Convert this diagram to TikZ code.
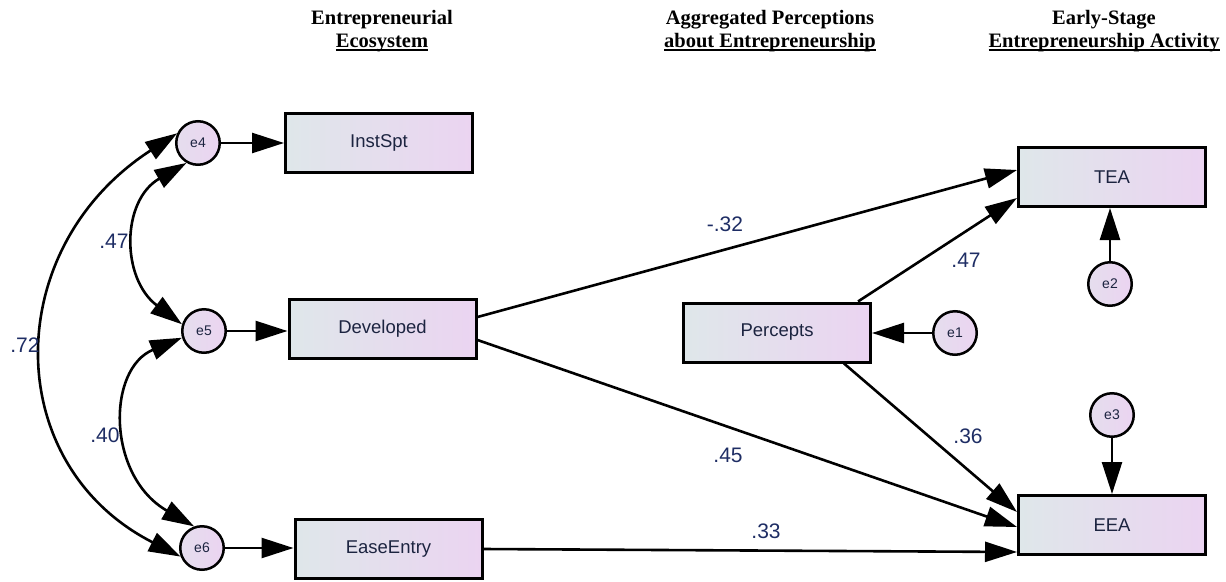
\documentclass[tikz,border=0pt]{standalone}
\usepackage{fontspec}
\setmainfont{Liberation Serif}
\newfontfamily\lsans{Liberation Sans}
\usetikzlibrary{arrows.meta}
\definecolor{boxL}{RGB}{223,231,234}
\definecolor{boxR}{RGB}{235,212,241}
\definecolor{txt}{RGB}{28,36,64}
\definecolor{num}{RGB}{30,45,100}
\newcommand\myul[1]{\setbox0\hbox{#1}\rlap{\rule[-3.5pt]{\wd0}{1.8pt}}\box0}
\begin{document}
\begin{tikzpicture}[x=1pt,y=1pt,
 var/.style={draw=black, line width=3pt, left color=boxL, right color=boxR, minimum width=187pt, minimum height=59pt, inner sep=0pt, font=\lsans\fontsize{18.5}{20}\selectfont, text=txt},
 err/.style={circle, draw=black, line width=2.5pt, left color=boxL!50!boxR, right color=boxR, minimum size=43.5pt, inner sep=0pt, font=\lsans\fontsize{14}{16}\selectfont, text=txt},
 reg/.style={line width=2.6pt, -{Triangle[length=32pt,width=20pt]}},
 cov/.style={line width=2.6pt, {Triangle[length=32pt,width=20pt]}-{Triangle[length=32pt,width=20pt]}},
 coef/.style={font=\lsans\fontsize{21}{24}\selectfont, text=num, inner sep=0pt},
 head/.style={font=\bfseries\fontsize{20.5}{23}\selectfont, align=center, anchor=base, inner sep=0pt}
]
\useasboundingbox (0,0) rectangle (1226,-581);

% headers
\node[head] (h1) at (382,-47) {Entrepreneurial\\\myul{Ecosystem}};
\node[head] (h2) at (770,-47) {Aggregated Perceptions\\\myul{about Entrepreneurship}};
\node[head] (h3) at (1104,-47) {Early-Stage\\\myul{Entrepreneurship Activity}};

% observed variables
\node[var] (InstSpt) at (379,-142.5) {InstSpt};
\node[var] (Developed) at (382.5,-328.5) {Developed};
\node[var] (EaseEntry) at (388.5,-549) {EaseEntry};
\node[var] (Percepts) at (777,-332.5) {Percepts};
\node[var] (TEA) at (1112,-177) {TEA};
\node[var] (EEA) at (1112,-525) {EEA};

% error terms
\node[err] (e4) at (198,-143) {e4};
\node[err] (e5) at (204,-331) {e5};
\node[err] (e6) at (202,-548) {e6};
\node[err] (e1) at (955,-333) {e1};
\node[err] (e2) at (1110,-284) {e2};
\node[err] (e3) at (1112,-415) {e3};

% error paths
\draw[reg] (e4) -- (e4 -| InstSpt.west);
\draw[reg] (e5) -- (e5 -| Developed.west);
\draw[reg] (e6) -- (e6 -| EaseEntry.west);
\draw[reg] (e1) -- (e1 -| Percepts.east);
\draw[reg] (e2) -- (e2 |- TEA.south);
\draw[reg] (e3) -- (e3 |- EEA.north);

% structural paths
\draw[reg] ([yshift=11.5]Developed.east) -- ([yshift=7]TEA.west);
\draw[reg] ([xshift=81]Percepts.north) -- ([yshift=-21]TEA.west);
\draw[reg] ([yshift=-11.5]Developed.east) -- ([yshift=-2]EEA.west);
\draw[reg] ([xshift=67]Percepts.south) -- ([yshift=13]EEA.west);
\draw[reg] (EaseEntry.east) -- ([yshift=-27]EEA.west);

% covariances
\draw[cov] (e4.240) .. controls (121,-200.7) and (121,-278.5) .. (e5.163);
\draw[cov] (e5.197) .. controls (106.6,-369) and (106.6,-475.9) .. (e6.110);
\draw[cov] (e4.155) .. controls (0,-248) and (0,-464.5) .. (e6.202);

% coefficients
\node[coef] (c1) at (114,-241) {.47};
\node[coef] (c2) at (25,-345) {.72};
\node[coef] (c3) at (105,-435) {.40};
\node[coef] (c4) at (725,-224) {-.32};
\node[coef] (c5) at (966,-260) {.47};
\node[coef] (c6) at (968,-436) {.36};
\node[coef] (c7) at (728,-455) {.45};
\node[coef] (c8) at (766,-531) {.33};
\end{tikzpicture}
\end{document}
